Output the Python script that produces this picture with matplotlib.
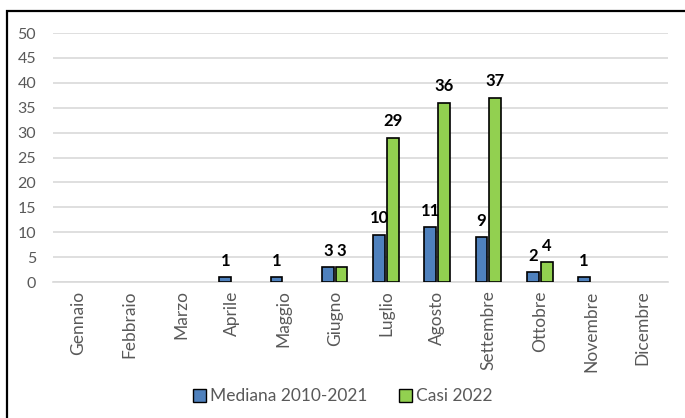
import matplotlib.pyplot as plt
import matplotlib.patches as mpatches
import numpy as np

mesi = ["Gennaio", "Febbraio", "Marzo", "Aprile", "Maggio", "Giugno",
        "Luglio", "Agosto", "Settembre", "Ottobre", "Novembre", "Dicembre"]
mediana = [0, 0, 0, 1, 1, 3, 9.5, 11, 9, 2, 1, 0]
casi_2022 = [0, 0, 0, 0, 0, 3, 29, 36, 37, 4, 0, 0]
y_ticks = [0, 5, 10, 15, 20, 25, 30, 35, 40, 45, 50]

blu = "#4F81BD"
verde = "#92D050"
grigio = "#595959"

plt.rcParams['font.family'] = ['Lato', 'DejaVu Sans']

fig = plt.figure(figsize=(6.85, 4.18), dpi=100)
ax = fig.add_axes([0.077, 0.325, 0.898, 0.596])

x = np.arange(len(mesi))
w = 0.23
bordi1 = ["black" if v > 0 else "none" for v in mediana]
bordi2 = ["black" if v > 0 else "none" for v in casi_2022]
b1 = ax.bar(x - w / 2 - 0.02, mediana, w, color=blu, edgecolor=bordi1,
            linewidth=1.2, label="Mediana 2010-2021", zorder=3)
b2 = ax.bar(x + w / 2 + 0.02, casi_2022, w, color=verde, edgecolor=bordi2,
            linewidth=1.2, label="Casi 2022", zorder=3)

for bars, vals in ((b1, mediana), (b2, casi_2022)):
    for r, v in zip(bars, vals):
        if v > 0:
            ax.annotate("%.0f" % v, (r.get_x() + r.get_width() / 2, v),
                        xytext=(0, 6), textcoords="offset points",
                        ha="center", va="bottom", fontsize=12,
                        fontweight="bold", color="black")

ax.set_ylim(0, 50)
ax.set_xlim(-0.5, len(mesi) - 0.5)
ax.set_yticks(y_ticks)
ax.set_xticks(x)
ax.set_xticklabels(mesi, rotation=90)
ax.tick_params(axis="both", length=0, colors=grigio)
ax.tick_params(axis="y", pad=12, labelsize=11.5)
ax.tick_params(axis="x", pad=6, labelsize=12.5)
ax.grid(axis="y", color="#D9D9D9", linewidth=1.2, zorder=0)
for s in ("top", "right", "left"):
    ax.spines[s].set_visible(False)
ax.spines["bottom"].set_color("#D9D9D9")
ax.spines["bottom"].set_linewidth(1.2)

fig.legend(handles=[mpatches.Patch(facecolor=blu, edgecolor="black", label="Mediana 2010-2021"),
                    mpatches.Patch(facecolor=verde, edgecolor="black", label="Casi 2022")],
           loc="center", bbox_to_anchor=(0.5, 0.052), ncol=2, frameon=False,
           fontsize=12.5, handlelength=0.75, handleheight=0.75, handletextpad=0.25,
           columnspacing=1.8, labelcolor=grigio)

fig.patches.append(mpatches.Rectangle((7 / 685, -0.1), 1.0, 1 - 11 / 418 + 0.1,
                                      transform=fig.transFigure, fill=False,
                                      edgecolor="black", linewidth=1.6))

fig.savefig("out.png", dpi=100)
